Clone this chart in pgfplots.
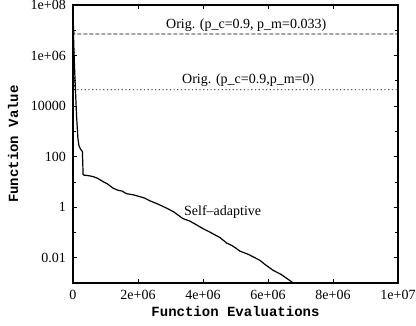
\documentclass[border=0pt]{standalone}
\usepackage{pgfplots}
\pgfplotsset{compat=1.18}
\usepackage{fontspec}
\setmainfont{Liberation Serif}
\setmonofont{Liberation Mono}
\begin{document}
\fontsize{14bp}{16bp}\selectfont
\begin{tikzpicture}
\path[use as bounding box] (-73bp,-43bp) rectangle (343bp,283bp);
\begin{axis}[
 scale only axis, width=325bp, height=278bp,
 at={(0,0)}, anchor=south west,
 xmin=0, xmax=1e7, ymode=log, ymin=1e-3, ymax=1e8,
 xtick={0,2e6,4e6,6e6,8e6,1e7},
 xticklabels={0,2e+06,4e+06,6e+06,8e+06,1e+07},
 scaled x ticks=false,
 ytick={1e-2,1,1e2,1e4,1e6,1e8},
 yticklabels={0.01,1,100,10000,1e+06,1e+08},
 minor ytick={1e-1,10,1e3,1e5,1e7},
 tick align=inside,
 axis line style={line width=1.2bp},
 tick style={black, line width=0.8bp},
 major tick length=4.5bp, minor tick length=3.5bp,
 tick label style={font=\fontsize{14bp}{16bp}\selectfont},
 yticklabel style={xshift=-2.3bp},
 xticklabel style={yshift=-2.5bp},
 xlabel={Function Evaluations}, ylabel={Function Value},
 label style={font=\fontsize{14bp}{16bp}\selectfont\ttfamily\bfseries},
 xlabel style={at={(axis description cs:0.5,-0.1043)},anchor=center},
 ylabel style={at={(axis description cs:-0.1846,0.5)},anchor=center},
 every axis plot/.append style={black},
]
\addplot[line width=0.8bp, dash pattern=on 4bp off 2bp] coordinates {
 (0,8e7) (3e4,7.1e6) (1e7,7.1e6)};
\addplot[line width=0.8bp, dash pattern=on 1.2bp off 2.5bp] coordinates {
 (0,8e7) (5e4,4.4e4) (1e7,4.4e4)};
\addplot[line width=1.2bp] coordinates {
 (0,8e7) (1.5e4,6.3e6) (4e4,6.3e5) (7e4,6.3e4) (1.1e5,4000) (1.5e5,560)
 (1.8e5,280) (2.3e5,200) (2.9e5,158) (3.1e5,20) (3.3e5,18.6) (5e5,17.5)
 (6.2e5,16.2) (7.5e5,14) (9.3e5,10.2) (1.05e6,8.5) (1.24e6,5.6) (1.4e6,4.6)
 (1.5e6,4.4) (1.65e6,3.4) (1.85e6,3.1) (2.06e6,2.6) (2.2e6,2.3) (2.37e6,1.78)
 (2.6e6,1.35) (2.9e6,0.89) (3.1e6,0.65) (3.38e6,0.355) (3.6e6,0.28)
 (3.8e6,0.2) (4.0e6,0.141) (4.2e6,0.105) (4.52e6,0.063) (4.73e6,0.038)
 (4.9e6,0.03) (5.14e6,0.0182) (5.4e6,0.0135) (5.75e6,0.0079) (5.9e6,0.0055)
 (6.16e6,0.00316) (6.4e6,0.0022) (6.78e6,0.001)};
\node[anchor=west, inner sep=0pt] at (axis cs:2.86e6,1.6e7) {Orig. (p\_c=0.9, p\_m=0.033)};
\node[anchor=west, inner sep=0pt] at (axis cs:3.354e6,1.07e5) {Orig. (p\_c=0.9,p\_m=0)};
\node[anchor=west, inner sep=0pt] at (axis cs:3.415e6,0.65) {Self--adaptive};
\end{axis}
\end{tikzpicture}
\end{document}
